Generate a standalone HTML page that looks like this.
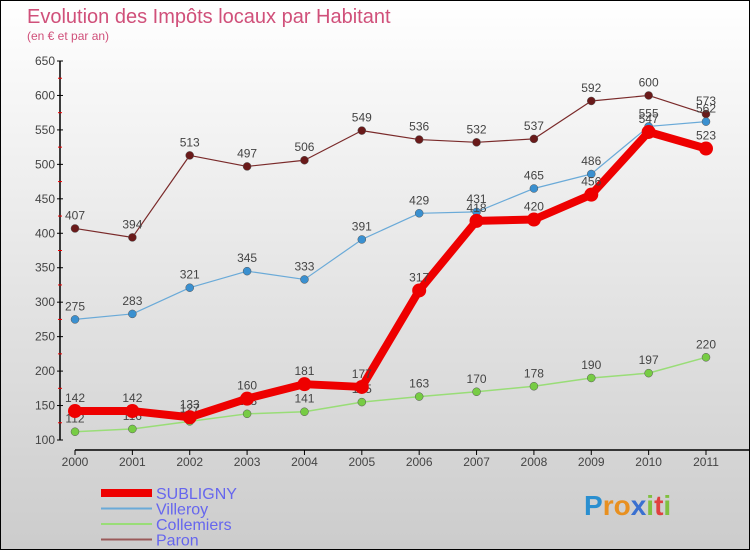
<!DOCTYPE html>
<html><head><meta charset="utf-8"><style>
body{margin:0}
#c{width:748px;height:548px;border:1px solid #000;background:linear-gradient(#fff,#ccc);position:relative;overflow:hidden;font-family:"Liberation Sans",sans-serif}
</style></head><body>
<div id="c">
<svg id="s" width="748" height="548" style="position:absolute;left:0;top:0">
<text x="26" y="22" font-size="20" fill="#d0507a">Evolution des Impôts locaux par Habitant</text>
<text x="26" y="39" font-size="12" fill="#d0507a">(en € et par an)</text>
<g id="axes"></g><g id="series"></g><g id="legend"></g>
<text x="583" y="514" font-size="28" font-weight="bold"><tspan fill="#2a8fd0">P</tspan><tspan fill="#e89020">r</tspan><tspan fill="#e89020">o</tspan><tspan fill="#3a70d0">x</tspan><tspan fill="#80c040">i</tspan><tspan fill="#e04040">t</tspan><tspan fill="#80c040">i</tspan></text>
</svg>
</div>
<script>
const years=[2000,2001,2002,2003,2004,2005,2006,2007,2008,2009,2010,2011];
const yTicks=[100,150,200,250,300,350,400,450,500,550,600,650];
const subligny=[142,142,133,160,181,177,317,418,420,456,547,523];
const villeroy=[275,283,321,345,333,391,429,431,465,486,555,562];
const collemiers=[112,116,127,138,141,155,163,170,178,190,197,220];
const paron=[407,394,513,497,506,549,536,532,537,592,600,573];
const NS="http://www.w3.org/2000/svg";
const X=i=>74+i*(705-74)/11;
const Y=v=>439-(v-100)*(379/550);
function mk(t,a,p){const e=document.createElementNS(NS,t);for(const k in a)e.setAttribute(k,a[k]);p.appendChild(e);return e;}
const ax=document.getElementById('axes');
const yl=mk('line',{x1:59,y1:Y(650),x2:59,y2:Y(100),stroke:'#000','stroke-width':1.5},ax);


yTicks.forEach(v=>{
  mk('line',{x1:56,x2:62,y1:Y(v),y2:Y(v),stroke:'#000'},ax);
  if(v<650) mk('line',{x1:57,x2:61,y1:Y(v+25),y2:Y(v+25),stroke:'#e00'},ax);
  const t=mk('text',{x:54,y:Y(v)+4,'text-anchor':'end','font-size':12,fill:'#444'},ax);
  t.textContent=v;
  
  
});
const xl=mk('line',{x1:X(0),y1:449,x2:748,y2:449,stroke:'#000','stroke-width':1.5},ax);


years.forEach((y,i)=>{
  mk('line',{x1:X(i),x2:X(i),y1:449,y2:454,stroke:'#000'},ax);
  const t=mk('text',{x:X(i),y:465,'text-anchor':'middle','font-size':12,fill:'#444'},ax);
  t.textContent=y;
  
  
});
const sg=document.getElementById('series');
function draw(vals,name,col,dot,w,r){
  const g=mk('g',{},sg);
  
  
  mk('polyline',{points:vals.map((v,i)=>X(i)+','+Y(v)).join(' '),fill:'none',stroke:col,'stroke-width':w,'stroke-linejoin':'round'},g);
  vals.forEach((v,i)=>{
    const c=mk('circle',{cx:X(i),cy:Y(v),r:r,fill:dot,stroke:w>3?'none':'#555','stroke-width':0.5},g);
    
    
    const t=mk('text',{x:X(i),y:Y(v)-9,'text-anchor':'middle','font-size':12,fill:'#444'},g);
    t.textContent=v;
    
    
  });
}
draw(paron,'paron','#7a2a2a','#6a1a1a',1.2,4);
draw(villeroy,'villeroy','#6aaad8','#3a90d0',1.2,4);
draw(collemiers,'collemiers','#99dd77','#77cc44',1.5,4);
draw(subligny,'subligny','#ee0000','#ee0000',8,7);
const lg=document.getElementById('legend');
[['SUBLIGNY','#ee0000',8],['Villeroy','#6aaad8',2],['Collemiers','#99dd77',2],['Paron','#9a5a5a',2]].forEach((d,i)=>{
  const y=492+i*15.5;
  mk('line',{x1:100,x2:151,y1:y,y2:y,stroke:d[1],'stroke-width':d[2]},lg);
  const t=mk('text',{x:155,y:y+6,'font-size':16,fill:'#6666ee'},lg);
  t.textContent=d[0];
  
  
});
</script>
</body></html>
